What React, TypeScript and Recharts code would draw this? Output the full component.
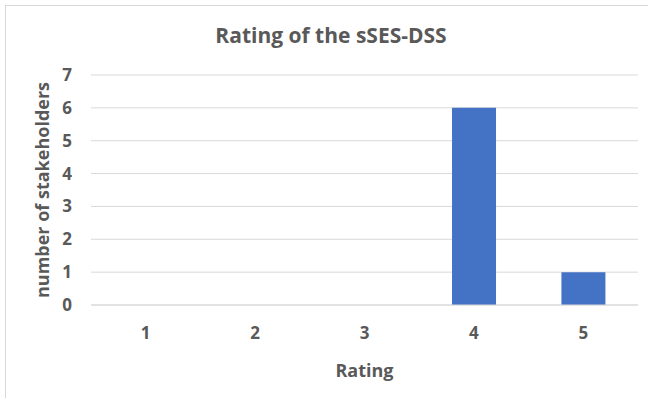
import { BarChart, Bar, XAxis, YAxis, CartesianGrid } from 'recharts'

const ratings = ['1', '2', '3', '4', '5']
const stakeholders = [0, 0, 0, 6, 1]
const yTicks = [0, 1, 2, 3, 4, 5, 6, 7]

const data = ratings.map((rating, i) => ({ rating, count: stakeholders[i] }))

const textColor = '#595959'
const fontFamily = '"Open Sans", sans-serif'

export default function App() {
  return (
    <div
      style={{
        position: 'absolute',
        left: 0,
        top: 0,
        width: 648,
        height: 398,
        background: '#fff',
        overflow: 'hidden',
        fontFamily,
      }}
    >
      <div
        style={{
          position: 'absolute',
          left: 5,
          top: 5,
          width: 700,
          height: 450,
          borderLeft: '1px solid #d9d9d9',
          borderTop: '1px solid #d9d9d9',
        }}
      />
      <div
        style={{
          position: 'absolute',
          left: 0,
          top: 22,
          width: 662,
          textAlign: 'center',
          fontSize: 21,
          lineHeight: '26px',
          fontWeight: 700,
          color: textColor,
        }}
      >
        Rating of the sSES-DSS
      </div>
      <div style={{ position: 'absolute', left: 0, top: 0 }}>
        <BarChart
          width={648}
          height={398}
          data={data}
          margin={{ top: 75, right: 10, bottom: 18, left: 31 }}
          barCategoryGap="30%"
        >
          <CartesianGrid vertical={false} stroke="#d9d9d9" />
          <XAxis
            dataKey="rating"
            height={75}
            tickLine={false}
            axisLine={{ stroke: '#d9d9d9' }}
            tickMargin={16}
            tick={{ fill: textColor, fontSize: 17, fontWeight: 700, fontFamily }}
            label={{
              value: 'Rating',
              position: 'insideBottom',
              offset: 3,
              fill: textColor,
              fontSize: 18,
              fontWeight: 700,
              fontFamily,
            }}
          />
          <YAxis
            width={60}
            domain={[0, 7]}
            ticks={yTicks}
            interval={0}
            tickLine={false}
            axisLine={false}
            tickMargin={13}
            tick={{ fill: textColor, fontSize: 17, fontWeight: 700, fontFamily }}
            label={{
              value: 'number of stakeholders',
              angle: -90,
              position: 'insideLeft',
              offset: 12,
              fill: textColor,
              fontSize: 18,
              fontWeight: 700,
              fontFamily,
              style: { textAnchor: 'middle' },
            }}
          />
          <Bar dataKey="count" fill="#4472c4" isAnimationActive={false} />
        </BarChart>
      </div>
    </div>
  )
}
